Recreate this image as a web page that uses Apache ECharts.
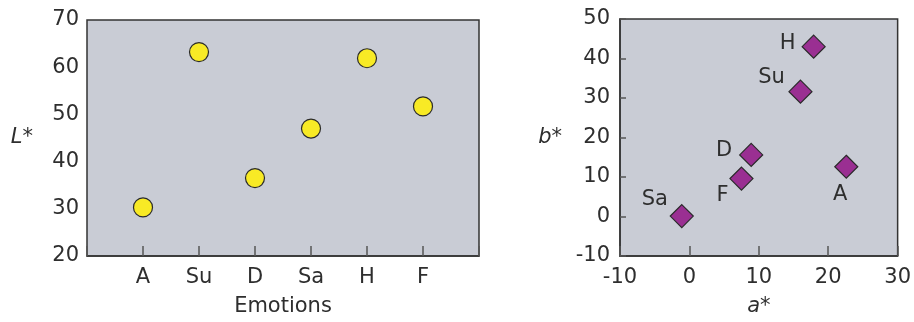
<!DOCTYPE html>
<html>
<head>
<meta charset="utf-8">
<script src="https://cdn.jsdelivr.net/npm/echarts@6/dist/echarts.min.js"></script>
<style>
html,body{margin:0;padding:0;background:#fff;}
#c{width:914px;height:322px;}
</style>
</head>
<body>
<div id="c"></div>
<script>
// Left panel: L* per emotion
const emotions = ['A', 'Su', 'D', 'Sa', 'H', 'F'];
const lValues = [30.3, 63.2, 36.5, 47.0, 61.9, 51.7];
const lTicks = [20, 30, 40, 50, 60, 70];

// Right panel: a*, b* per emotion
const abNames = ['H', 'Su', 'D', 'F', 'A', 'Sa'];
const aValues = [17.9, 16.0, 8.9, 7.5, 22.6, -1.1];
const bValues = [43.0, 31.6, 15.6, 9.6, 12.6, 0.1];
const aTicks = [-10, 0, 10, 20, 30];
const bTicks = [-10, 0, 10, 20, 30, 40, 50];

const FONT = 'DejaVu Sans';
const TXT = '#2e2e2e';
const BG = '#c9ccd5';
const LINE = '#333333';

const labelOffsets = {
  H: [-26, -3], Su: [-29, -14], D: [-27, -4], F: [-19, 17], A: [-6, 28], Sa: [-27, -17]
};

const chart = echarts.init(document.getElementById('c'), null, {renderer: 'canvas'});

const catAxisData = [''].concat(emotions, ['']);

const option = {
  animation: false,
  grid: [
    {left: 87, top: 20, right: 435, bottom: 65, show: true, backgroundColor: BG, borderColor: LINE, borderWidth: 1.5},
    {left: 620, top: 19, right: 15, bottom: 65, show: true, backgroundColor: BG, borderColor: LINE, borderWidth: 1.5}
  ],
  xAxis: [
    {
      gridIndex: 0, type: 'category', data: catAxisData, boundaryGap: false,
      name: 'Emotions', nameLocation: 'middle', nameGap: 40,
      nameTextStyle: {fontFamily: FONT, fontSize: 21, color: TXT},
      axisLine: {onZero: false, lineStyle: {color: LINE, width: 1.5}},
      axisTick: {inside: true, length: 10, lineStyle: {color: '#555', width: 1.5}},
      axisLabel: {fontFamily: FONT, fontSize: 21, color: TXT, margin: 11, interval: 0},
      splitLine: {show: false}
    },
    {
      gridIndex: 1, type: 'value', min: aTicks[0], max: aTicks[aTicks.length - 1], interval: 10,
      name: 'a*', nameLocation: 'middle', nameGap: 40,
      nameTextStyle: {fontFamily: FONT, fontSize: 21, color: TXT, fontStyle: 'italic'},
      axisLine: {onZero: false, lineStyle: {color: LINE, width: 1.5}},
      axisTick: {inside: true, length: 10, lineStyle: {color: '#555', width: 1.5}},
      axisLabel: {fontFamily: FONT, fontSize: 21, color: TXT, margin: 11},
      splitLine: {show: false}
    }
  ],
  yAxis: [
    {
      gridIndex: 0, type: 'value', min: lTicks[0], max: lTicks[lTicks.length - 1], interval: 10,
      name: 'L*', nameLocation: 'middle', nameGap: 54, nameRotate: 0,
      nameTextStyle: {fontFamily: FONT, fontSize: 21, color: TXT, fontStyle: 'italic'},
      axisLine: {onZero: false, lineStyle: {color: LINE, width: 1.5}},
      axisTick: {inside: false, length: 6, lineStyle: {color: '#555', width: 1.5}},
      axisLabel: {fontFamily: FONT, fontSize: 21, color: TXT, margin: 8},
      splitLine: {show: false}
    },
    {
      gridIndex: 1, type: 'value', min: bTicks[0], max: bTicks[bTicks.length - 1], interval: 10,
      name: 'b*', nameLocation: 'middle', nameGap: 58, nameRotate: 0,
      nameTextStyle: {fontFamily: FONT, fontSize: 21, color: TXT, fontStyle: 'italic'},
      axisLine: {onZero: false, lineStyle: {color: LINE, width: 1.5}},
      axisTick: {inside: true, length: 6, lineStyle: {color: '#555', width: 1.5}},
      axisLabel: {fontFamily: FONT, fontSize: 21, color: TXT, margin: 10},
      splitLine: {show: false}
    }
  ],
  series: [
    {
      type: 'scatter', xAxisIndex: 0, yAxisIndex: 0,
      symbol: 'circle', symbolSize: 19,
      itemStyle: {color: '#f8ea25', borderColor: '#2a2a2a', borderWidth: 1.2, opacity: 1},
      data: emotions.map((e, i) => [e, lValues[i]])
    },
    {
      type: 'scatter', xAxisIndex: 1, yAxisIndex: 1,
      symbol: 'diamond', symbolSize: 23,
      itemStyle: {color: '#9a2f92', borderColor: '#2a2a2a', borderWidth: 1.2, opacity: 1},
      data: abNames.map((n, i) => ({
        name: n,
        value: [aValues[i], bValues[i]],
        label: {
          show: true, formatter: n, position: 'inside', offset: labelOffsets[n],
          fontFamily: FONT, fontSize: 21, color: TXT
        }
      }))
    }
  ]
};

chart.setOption(option);
</script>
</body>
</html>
